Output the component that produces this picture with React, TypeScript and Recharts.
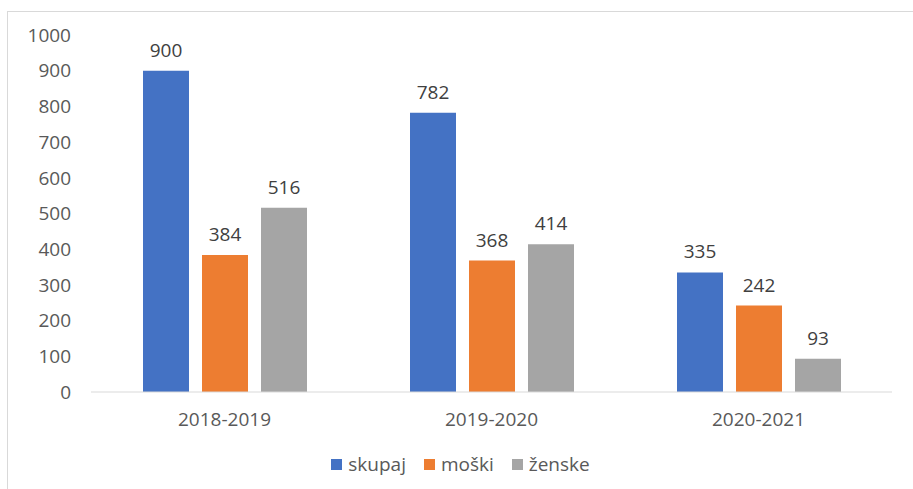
import React from "react";
import { BarChart, Bar, XAxis, YAxis, Legend, LabelList } from "recharts";

const categories = ["2018-2019", "2019-2020", "2020-2021"];
const skupaj = [900, 782, 335];
const moski = [384, 368, 242];
const zenske = [516, 414, 93];
const yTicks = [0, 100, 200, 300, 400, 500, 600, 700, 800, 900, 1000];

const series = [
  { key: "skupaj", name: "skupaj", color: "#4472C4" },
  { key: "moski", name: "moški", color: "#ED7D31" },
  { key: "zenske", name: "ženske", color: "#A5A5A5" },
];

const data = categories.map((c, i) => ({
  cat: c,
  skupaj: skupaj[i],
  moski: moski[i],
  zenske: zenske[i],
}));

const FONT = "'Open Sans', sans-serif";

const LegendContent = () => (
  <div style={{ display: "flex", justifyContent: "center", alignItems: "center", fontFamily: FONT, fontSize: 19, color: "#595959" }}>
    {series.map((s) => (
      <div key={s.key} style={{ display: "flex", alignItems: "center", marginRight: 18 }}>
        <span style={{ display: "inline-block", width: 11, height: 11, background: s.color, marginRight: 6 }} />
        <span>{s.name}</span>
      </div>
    ))}
  </div>
);

export default function App() {
  return (
    <div style={{ position: "absolute", left: 0, top: 0, width: 913, height: 489, overflow: "hidden", background: "#fff" }}>
      <div style={{ position: "absolute", left: 7, top: 11, width: 960, height: 520, border: "1px solid #d9d9d9", boxSizing: "border-box" }} />
      <div style={{ position: "absolute", left: 0, top: 0 }}>
        <BarChart
          width={913}
          height={489}
          data={data}
          margin={{ top: 35, right: 21, left: 6, bottom: 67 }}
          barSize={46}
          barGap={13}
        >
          <XAxis
            dataKey="cat"
            height={30}
            tickLine={false}
            tickSize={0}
            tickMargin={21}
            axisLine={{ stroke: "#d9d9d9", strokeWidth: 1 }}
            tick={{ fill: "#595959", fontSize: 19, fontFamily: FONT }}
          />
          <YAxis
            width={85}
            domain={[0, 1000]}
            ticks={yTicks}
            interval={0}
            axisLine={false}
            tickLine={false}
            tickSize={0}
            tickMargin={20}
            tick={{ fill: "#595959", fontSize: 19, fontFamily: FONT }}
          />
          <Legend
            layout="horizontal"
            verticalAlign="middle"
            align="center"
            content={<LegendContent />}
            wrapperStyle={{ top: 451, left: 13, width: 913 }}
          />
          {series.map((s) => (
            <Bar key={s.key} dataKey={s.key} name={s.name} fill={s.color} isAnimationActive={false}>
              <LabelList dataKey={s.key} position="top" offset={14} fill="#404040" fontSize={19} fontFamily={FONT} />
            </Bar>
          ))}
        </BarChart>
      </div>
    </div>
  );
}
